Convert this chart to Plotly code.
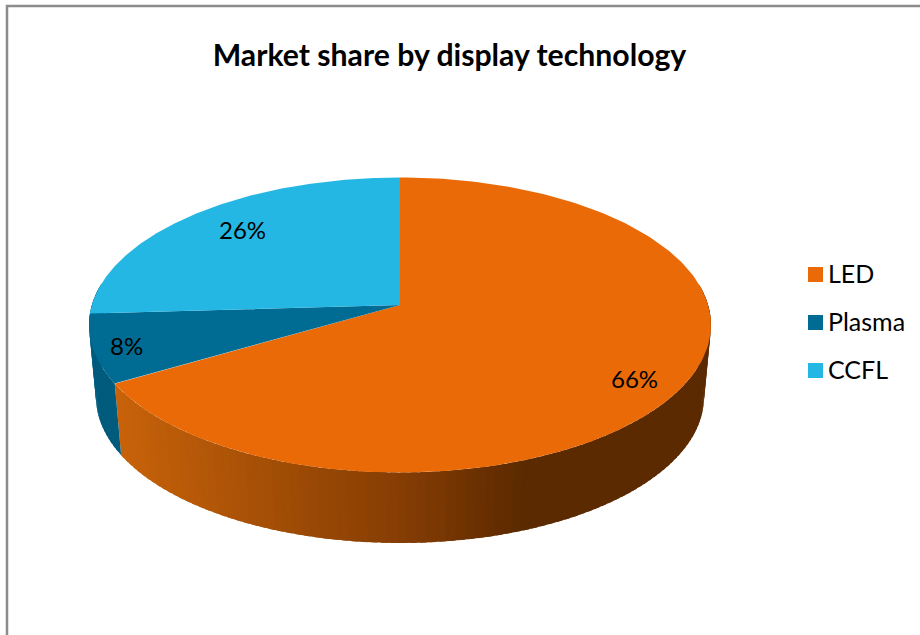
import numpy as np
import plotly.graph_objects as go

TITLE = "Market share by display technology"
categories = ["LED", "Plasma", "CCFL"]
shares = [66, 8, 26]

TOP_COLORS = ["#EA6A07", "#006C93", "#25B7E3"]
SIDE_COLORS = [None, "#005B7D", "#005B7D"]
GRAD_X = [115, 300, 400, 520, 720]
GRAD_RGB = [(201, 99, 10), (156, 74, 5), (134, 61, 4), (92, 42, 0), (92, 42, 0)]

# pie geometry (canvas pixels)
CX, TOP_CY, TOP_RX, TOP_RY = 400, 325, 311, 147.5
BOT_CY, BOT_RX, BOT_RY = 397, 304, 146
APEX_V = 0.136  # perspective shift of the pie centre
WARP = 2.4      # perspective warp of the slice angles, degrees

def rim(theta_deg):
    t = np.radians(np.asarray(theta_deg, dtype=float))
    t = t + np.radians(WARP) * np.sin(2 * t)
    dx, dy = np.sin(t), np.cos(t)
    b = APEX_V * dy
    s = -b + np.sqrt(b * b - (APEX_V ** 2 - 1))
    return s * dx, APEX_V + s * dy, s

def top_xy(u, v):
    return CX + TOP_RX * u, TOP_CY - TOP_RY * v

def bot_xy(u, v):
    return CX + BOT_RX * u, BOT_CY - BOT_RY * v

def side_color(x, i):
    if SIDE_COLORS[i]:
        return SIDE_COLORS[i]
    r, g, b = (np.interp(x, GRAD_X, [c[k] for c in GRAD_RGB]) for k in range(3))
    return f"rgb({r:.0f},{g:.0f},{b:.0f})"

fig = go.Figure()
edges = np.cumsum([0] + shares) / sum(shares) * 360

# side walls, drawn as overlapping gradient strips
for i in range(len(shares)):
    a0, a1 = edges[i], edges[i + 1]
    n = max(2, int((a1 - a0) / 1.5))
    ts = np.linspace(a0, a1, n + 1)
    for t0, t1 in zip(ts[:-1], ts[1:]):
        tt = np.linspace(t0, min(t1 + 1.0, a1), 4)
        u, v, _ = rim(tt)
        if v.min() > 0.25:
            continue
        xt, yt = top_xy(u, v)
        xb, yb = bot_xy(u, v)
        col = side_color((xt[0] + xt[2] + xb[0] + xb[2]) / 4, i)
        fig.add_trace(go.Scatter(
            x=np.r_[xt, xb[::-1], xt[0]],
            y=np.r_[yt, yb[::-1], yt[0]],
            mode="lines", fill="toself", fillcolor=col,
            line=dict(color=col, width=0),
            hoverinfo="skip", showlegend=False))

# top faces
for i, cat in enumerate(categories):
    ts = np.linspace(edges[i], edges[i + 1], 200)
    u, v, _ = rim(ts)
    x, y = top_xy(u, v)
    ax, ay = top_xy(0, APEX_V)
    fig.add_trace(go.Scatter(
        x=np.r_[ax, x, ax], y=np.r_[ay, y, ay],
        mode="lines", fill="toself", fillcolor=TOP_COLORS[i],
        line=dict(color=TOP_COLORS[i], width=0),
        name=cat, hoverinfo="skip", showlegend=False))

# legend column
LEGEND_X, LEGEND_TEXT_X, LEGEND_Y0, LEGEND_STEP = 815.5, 829, 274.5, 48
for i, cat in enumerate(categories):
    ly = LEGEND_Y0 + i * LEGEND_STEP
    fig.add_trace(go.Scatter(
        x=[LEGEND_X], y=[ly], mode="markers", name=cat,
        marker=dict(symbol="square", size=15, color=TOP_COLORS[i]),
        hoverinfo="skip", showlegend=False))
    fig.add_annotation(x=LEGEND_TEXT_X, y=ly, text=cat, showarrow=False,
                       xanchor="left", yanchor="middle", xshift=-3, yshift=2,
                       font=dict(family="Lato", size=25, color="#000000"))

# percentage labels
LABEL_ANGLE_SHIFT = [5.2, 0, 1.4]
LABEL_RADIUS = [0.91, 0.925, 0.71]
for i, val in enumerate(shares):
    mid = (edges[i] + edges[i + 1]) / 2 + LABEL_ANGLE_SHIFT[i]
    t = np.radians(mid)
    u, v = LABEL_RADIUS[i] * np.sin(t), APEX_V + LABEL_RADIUS[i] * np.cos(t)
    lx, ly = top_xy(u, v)
    fig.add_annotation(x=lx, y=ly, text=f"{val}%", showarrow=False, yshift=2,
                       font=dict(family="Lato", size=24, color="#000000"))

fig.update_layout(
    width=920, height=635, margin=dict(l=0, r=0, t=0, b=0),
    paper_bgcolor="#FFFFFF", plot_bgcolor="#FFFFFF", showlegend=False,
    font=dict(family="Lato", color="#000000"),
    title=dict(text=f"<b>{TITLE}</b>", x=449.5 / 920, y=1 - 55 / 635,
               xanchor="center", yanchor="middle",
               font=dict(family="Lato", size=30.2, color="#000000")),
    xaxis=dict(range=[0, 920], visible=False, fixedrange=True),
    yaxis=dict(range=[635, 0], visible=False, fixedrange=True),
    shapes=[dict(type="rect", xref="x", yref="y", x0=7, y0=6, x1=960, y1=700,
                 line=dict(color="#8C8C8C", width=2.5), layer="below")],
)

fig.write_html("out.html", config={"displayModeBar": False},
               post_script="document.body.style.margin='0';document.body.style.overflow='hidden';")
